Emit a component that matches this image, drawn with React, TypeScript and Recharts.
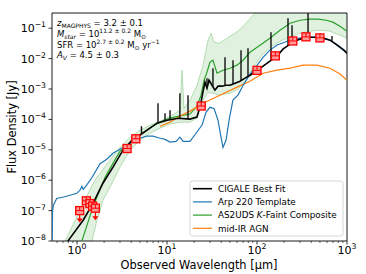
import React from "react";
import { ComposedChart, Line, Area, Scatter, XAxis, YAxis, ReferenceArea } from "recharts";

const FONT = "DejaVu Sans, Verdana, sans-serif";

// CIGALE best fit, continuum (wavelength in um, flux in Jy)
const cigaleWave = [0.65, 0.836, 1.17, 1.51, 1.94, 2.51, 3.24, 4.09, 4.64, 6.0, 7.74, 10, 13.3, 18.0, 21.5, 23.4, 25.1, 26.4, 27.8, 29.3, 31.6, 34.1, 36.9, 40.8, 45.3, 50.1, 57.0, 64.7, 73.6, 83.6, 100, 117, 139, 167, 194, 233, 278, 324, 388, 464, 555, 647, 755, 836, 926, 1000];
const cigaleFlux = [4.3e-9, 1.24e-8, 4.83e-8, 1.75e-7, 7.96e-7, 2.68e-6, 9.7e-6, 2.07e-5, 2.59e-5, 4.41e-5, 7.5e-5, 9.42e-5, 1.09e-4, 1.02e-4, 1.2e-4, 2.75e-4, 8.0e-4, 1.67e-3, 1.06e-3, 1.95e-3, 1.33e-3, 9.13e-4, 1.24e-3, 1.24e-3, 1.33e-3, 1.33e-3, 1.55e-3, 1.8e-3, 2.27e-3, 2.84e-3, 4.0e-3, 5.62e-3, 8.2e-3, 0.012, 0.0204, 0.0298, 0.0403, 0.0469, 0.0506, 0.0506, 0.0469, 0.0403, 0.0298, 0.0237, 0.0189, 0.0151];

// emission lines of the CIGALE fit
const lineWave = [5.2, 7.94, 9.5, 10.8, 13.9, 17.1, 27.8, 32.4, 44.1, 54.1, 66.4, 79.4, 143, 221, 245, 369, 681];
const lineBase = [3.3e-5, 7.5e-5, 8.7e-5, 9.4e-5, 1.09e-4, 1.02e-4, 1.06e-3, 1.2e-3, 1.3e-3, 1.45e-3, 1.85e-3, 2.6e-3, 8.7e-3, 0.027, 0.033, 0.05, 0.036];
const lineTop = [5.97e-5, 3.41e-4, 1.6e-4, 2.01e-4, 7.28e-4, 6.25e-4, 2.27e-3, 4.83e-3, 0.0111, 8.86e-3, 0.0189, 0.022, 0.0738, 0.213, 0.126, 0.6, 0.055];

// Arp 220 template
const arpWave = [0.527, 0.535, 0.546, 0.594, 0.705, 0.836, 0.993, 1.08, 1.13, 1.17, 1.28, 1.46, 1.58, 1.8, 2.14, 2.53, 3.0, 3.57, 4.22, 5.0, 5.95, 7.0, 8.4, 9.5, 10.8, 12.6, 13.9, 15.1, 18, 21, 24.5, 27.1, 30, 33.3, 36.9, 39.8, 41.9, 45.3, 48.9, 54, 61.5, 69.9, 79.4, 90.3, 100, 116.6, 139, 167, 233, 324, 464, 647, 836, 1000];
const arpFlux = [5e-9, 1.0e-7, 1.5e-7, 2.5e-7, 2.8e-7, 3.2e-7, 3.7e-7, 4.7e-7, 6.3e-7, 5.0e-7, 6.9e-7, 1.2e-6, 1.8e-6, 3.5e-6, 4.9e-6, 7.8e-6, 1.05e-5, 1.4e-5, 1.9e-5, 2.4e-5, 2.8e-5, 2.8e-5, 2.4e-5, 2.2e-5, 1.8e-5, 1.9e-5, 2.6e-5, 1.9e-5, 1.9e-5, 3.5e-5, 6.5e-5, 1.7e-4, 2.5e-4, 2.3e-4, 9.3e-5, 2.6e-5, 1.2e-5, 2.1e-5, 9.3e-5, 4.3e-4, 6.3e-4, 1.3e-3, 2.4e-3, 4.2e-3, 6.0e-3, 0.011, 0.019, 0.028, 0.040, 0.050, 0.050, 0.041, 0.023, 0.015];

// AS2UDS K-faint composite, median
const compWave = [1.0, 1.13, 1.26, 1.39, 1.58, 1.8, 2.05, 2.33, 3.0, 3.88, 5.0, 6.47, 8.36, 10.8, 13.9, 18, 21.5, 23.9, 25.8, 27.8, 30, 32.4, 35.9, 41.9, 50.1, 59.9, 69.9, 83.6, 108, 139, 180, 233, 300, 388, 479, 587, 697, 836, 1000];
const compFlux = [3.4e-9, 9.8e-9, 2.64e-8, 6.6e-8, 1.9e-7, 5.06e-7, 1.26e-6, 2.45e-6, 9.0e-6, 1.6e-5, 3.2e-5, 5.2e-5, 8.2e-5, 1.1e-4, 1.3e-4, 1.5e-4, 2.7e-4, 6.25e-4, 1.95e-3, 3.57e-3, 7.6e-3, 8.86e-3, 3.3e-3, 4.15e-3, 4.83e-3, 6.1e-3, 8.86e-3, 0.0162, 0.0276, 0.0469, 0.0859, 0.146, 0.183, 0.198, 0.198, 0.183, 0.158, 0.116, 0.0797];

// AS2UDS composite, 16-84th percentile band
const bandWave = [0.736, 1.08, 1.468, 1.668, 1.945, 2.448, 3.004, 3.879, 5.012, 6.474, 8.36, 10.8, 13.94, 14.68, 15.45, 18.01, 21.54, 25.12, 28.54, 30.83, 33.29, 37.83, 42.98, 50.12, 61.5, 75.5, 92.6, 113.6, 139.4, 180.1, 232.6, 300.4, 388, 501, 647, 836, 1000];
const bandLow = [3.0e-12, 2.8e-10, 9.84e-9, 4.83e-8, 2.2e-7, 7.96e-7, 2.68e-6, 9.7e-6, 2.07e-5, 3.52e-5, 5.14e-5, 6.95e-5, 8.09e-5, 8.09e-5, 8.09e-5, 8.09e-5, 1.09e-4, 4.28e-4, 7.85e-4, 7.28e-4, 7.28e-4, 6.25e-4, 6.74e-4, 7.28e-4, 9.84e-4, 1.95e-3, 5.62e-3, 0.0129, 0.0237, 0.0373, 0.0506, 0.0685, 0.0796, 0.0859, 0.0796, 0.0589, 0.0469];
const bandHigh = [9.84e-9, 1.03e-7, 6.85e-7, 1.26e-6, 2.3e-6, 5.71e-6, 1.22e-5, 2.59e-5, 4.41e-5, 6.45e-5, 8.73e-5, 1.27e-4, 2.01e-4, 4.15e-3, 2.33e-4, 4.28e-4, 1.33e-3, 6.07e-3, 0.0403, 0.0685, 0.0346, 0.0321, 0.0403, 0.0546, 0.0796, 0.146, 0.289, 0.571, 1.22, 2, 2, 2, 2, 2, 2, 2, 2];

// mid-IR AGN
const agnWave = [8.36, 10.8, 13.9, 18, 25.1, 38.7, 59.9, 83.6, 117, 167, 233, 324, 464, 647, 836, 1000];
const agnFlux = [5.97e-5, 8.1e-5, 1.27e-4, 1.87e-4, 3.41e-4, 6.25e-4, 1.15e-3, 1.8e-3, 3.3e-3, 4.15e-3, 4.83e-3, 6.1e-3, 6.1e-3, 4.83e-3, 3.1e-3, 1.95e-3];

// photometry
const photWave = [1.07, 1.27, 1.39, 1.49, 1.6, 3.6, 4.5, 24, 100, 160, 250, 350, 500];
const photFlux = [1.0e-7, 2.1e-7, 1.7e-7, 1.4e-7, 1.2e-7, 1.1e-5, 2.3e-5, 2.75e-4, 4.1e-3, 1.23e-2, 3.8e-2, 5.2e-2, 4.8e-2];
const photLimit = [true, false, false, false, true, false, false, false, false, false, false, false, false];

const xTicks = [0.6, 0.7, 0.8, 0.9, 1, 2, 3, 4, 5, 6, 7, 8, 9, 10, 20, 30, 40, 50, 60, 70, 80, 90, 100, 200, 300, 400, 500, 600, 700, 800, 900, 1000];
const yTicks = [1e-8, 1e-7, 1e-6, 1e-5, 1e-4, 1e-3, 1e-2, 1e-1];

const legendItems = [
  { label: "CIGALE Best Fit", color: "#000000", width: 1.6 },
  { label: "Arp 220 Template", color: "#1f77b4", width: 1.2 },
  { label: "AS2UDS", italic: "K", rest: "-Faint Composite", color: "#2ca02c", width: 1.2 },
  { label: "mid-IR AGN", color: "#ff7f0e", width: 1.2 },
];

const pts = (xs: number[], ys: number[]) => xs.map((x, i) => ({ x, y: ys[i] }));

const cigaleData = pts(cigaleWave, cigaleFlux);
const lineData = lineWave.flatMap((x, i) => [
  { x, y: lineBase[i] },
  { x, y: lineTop[i] },
  { x, y: null },
]);
const arpData = pts(arpWave, arpFlux);
const compData = pts(compWave, compFlux);
const bandData = bandWave.map((x, i) => ({ x, range: [bandLow[i], bandHigh[i]] }));
const agnData = pts(agnWave, agnFlux);
const photData = photWave.map((x, i) => ({ x, y: photFlux[i], limit: photLimit[i] }));

function isMajor(v: number) {
  const l = Math.log10(v);
  return Math.abs(l - Math.round(l)) < 1e-6;
}

function XTick(props: any) {
  const { x, y, payload } = props;
  const v = payload.value;
  const major = isMajor(v);
  const exp = Math.round(Math.log10(v));
  return (
    <g>
      <line x1={x} x2={x} y1={y} y2={y + (major ? 3.5 : 2)} stroke="#000" strokeWidth={major ? 0.8 : 0.6} />
      {major && (
        <text x={x} y={y + 13} textAnchor="middle" fontSize={11} fontFamily={FONT} fill="#000">
          10<tspan dy={-5} fontSize={7.7}>{exp}</tspan>
        </text>
      )}
    </g>
  );
}

function YTick(props: any) {
  const { x, y, payload } = props;
  const exp = Math.round(Math.log10(payload.value));
  return (
    <g>
      <line x1={x - 3.5} x2={x} y1={y} y2={y} stroke="#000" strokeWidth={0.8} />
      <text x={x - 6} y={y + 4} textAnchor="end" fontSize={11} fontFamily={FONT} fill="#000">
        10<tspan dy={-5} fontSize={7.7}>{"\u2212" + Math.abs(exp)}</tspan>
      </text>
    </g>
  );
}

function PhotPoint(props: any) {
  const { cx, cy, payload } = props;
  if (cx == null || cy == null) return <g />;
  const s = 4;
  return (
    <g>
      {payload.limit && (
        <g>
          <line x1={cx} x2={cx} y1={cy} y2={cy + 9} stroke="#ff0000" strokeWidth={1.2} />
          <path d={`M${cx - 3},${cy + 8} L${cx + 3},${cy + 8} L${cx},${cy + 12} Z`} fill="#ff0000" />
        </g>
      )}
      <rect x={cx - s} y={cy - s} width={2 * s} height={2 * s} fill="#ff9a9a" stroke="#ff0000" strokeWidth={1.3} />
      <line x1={cx - s} x2={cx + s} y1={cy} y2={cy} stroke="#ff0000" strokeWidth={1} />
      <line x1={cx} x2={cx} y1={cy - s} y2={cy} stroke="#ff0000" strokeWidth={1} />
    </g>
  );
}

export default function App() {
  return (
    <div style={{ position: "absolute", left: 0, top: 0, width: 366, height: 274, background: "#fff" }}>
      <ComposedChart width={366} height={274} margin={{ top: 13, right: 19, bottom: 0, left: 0 }}>
        <XAxis
          dataKey="x"
          type="number"
          scale="log"
          domain={[0.527, 1000]}
          allowDataOverflow
          ticks={xTicks}
          interval={0}
          tick={<XTick />}
          tickLine={false}
          tickSize={0}
          tickMargin={0}
          axisLine={false}
          height={33}
        />
        <YAxis
          dataKey="y"
          type="number"
          scale="log"
          domain={[1e-8, 0.3162]}
          allowDataOverflow
          ticks={yTicks}
          interval={0}
          tick={<YTick />}
          tickLine={false}
          tickSize={0}
          tickMargin={0}
          axisLine={false}
          width={52}
        />
        <Area
          data={bandData}
          dataKey="range"
          type="linear"
          fill="#2ca02c"
          fillOpacity={0.15}
          stroke="#2ca02c"
          strokeOpacity={0.3}
          strokeWidth={1}
          dot={false}
          activeDot={false}
          isAnimationActive={false}
        />
        <Line data={compData} dataKey="y" type="linear" stroke="#2ca02c" strokeWidth={1.2} dot={false} activeDot={false} isAnimationActive={false} />
        <Line data={agnData} dataKey="y" type="linear" stroke="#ff7f0e" strokeWidth={1.2} dot={false} activeDot={false} isAnimationActive={false} />
        <Line data={arpData} dataKey="y" type="linear" stroke="#1f77b4" strokeWidth={1.2} dot={false} activeDot={false} isAnimationActive={false} />
        <Line data={cigaleData} dataKey="y" type="linear" stroke="#000" strokeWidth={1.6} dot={false} activeDot={false} isAnimationActive={false} />
        <Line data={lineData} dataKey="y" type="linear" stroke="#111" strokeWidth={1.4} dot={false} activeDot={false} isAnimationActive={false} />
        <Scatter data={photData} dataKey="y" shape={<PhotPoint />} isAnimationActive={false} />
        <ReferenceArea x1={0.527} x2={1000} y1={1e-8} y2={0.3162} fill="none" stroke="#000" strokeWidth={0.9} />
      </ComposedChart>
      <svg width={366} height={274} style={{ position: "absolute", left: 0, top: 0, pointerEvents: "none" }} fontFamily={FONT}>
        <g fontSize={8.5} fill="#000">
          <text x={57} y={26}>
            <tspan fontStyle="italic">z</tspan>
            <tspan fontSize={6} dy={2}>MAGPHYS</tspan>
            <tspan dy={-2}> = 3.2 ± 0.1</tspan>
          </text>
          <text x={57} y={36.5}>
            <tspan fontStyle="italic">M</tspan>
            <tspan fontSize={6} dy={2} fontStyle="italic">star</tspan>
            <tspan dy={-2}> = 10</tspan>
            <tspan fontSize={6} dy={-4}>11.2 ± 0.2</tspan>
            <tspan dy={4}> M</tspan>
            <tspan fontSize={6} dy={2}>⊙</tspan>
          </text>
          <text x={57} y={47.5}>
            <tspan>SFR = 10</tspan>
            <tspan fontSize={6} dy={-4}>2.7 ± 0.2</tspan>
            <tspan dy={4}> M</tspan>
            <tspan fontSize={6} dy={2}>⊙</tspan>
            <tspan dy={-2}> yr</tspan>
            <tspan fontSize={6} dy={-4}>−1</tspan>
          </text>
          <text x={57} y={57.5}>
            <tspan fontStyle="italic">A</tspan>
            <tspan fontSize={6} dy={2} fontStyle="italic">V</tspan>
            <tspan dy={-2}> = 4.5 ± 0.3</tspan>
          </text>
        </g>
        <rect x={190} y={181} width={153} height={55} rx={2.5} fill="#fff" fillOpacity={0.8} stroke="#cccccc" strokeWidth={0.8} />
        {legendItems.map((it, i) => {
          const yy = 188.7 + i * 13.2;
          return (
            <g key={it.label}>
              <line x1={193} x2={212} y1={yy} y2={yy} stroke={it.color} strokeWidth={it.width} />
              <text x={218} y={yy + 3.2} fontSize={8.8} fill="#000">
                {it.label}
                {it.italic && <tspan fontStyle="italic">{" " + it.italic}</tspan>}
                {it.rest && <tspan>{it.rest}</tspan>}
              </text>
            </g>
          );
        })}
        <text x={199} y={269} textAnchor="middle" fontSize={11.4} fill="#000">Observed Wavelength [µm]</text>
        <text x={16} y={127} textAnchor="middle" fontSize={11.4} fill="#000" transform="rotate(-90 16 127)">Flux Density [Jy]</text>
      </svg>
    </div>
  );
}
